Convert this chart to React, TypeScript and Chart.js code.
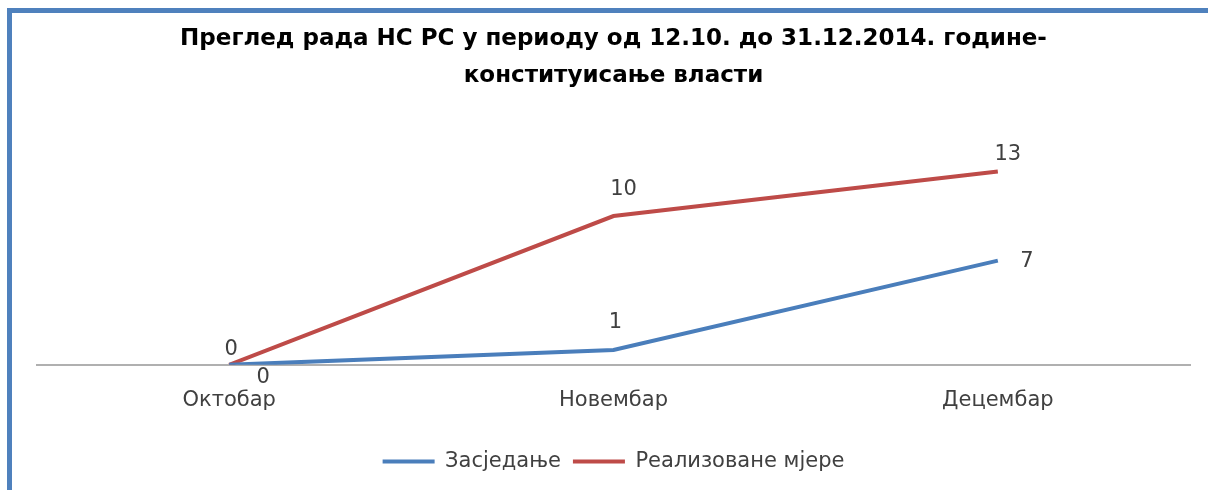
import React, { useEffect, useRef } from "react";
import { Chart, registerables } from "chart.js";

Chart.register(...registerables);

const categories = ["Октобар", "Новембар", "Децембар"];
const sessionValues = [0, 1, 7];
const measureValues = [0, 10, 13];
const seriesNames = ["Засједање", "Реализоване мјере"];
const titleLines = [
  "Преглед рада НС РС у периоду од 12.10. до 31.12.2014. године-",
  "конституисање власти",
];

const FONT = "'DejaVu Sans', 'Open Sans', sans-serif";
const TEXT_COLOR = "#404040";

// per-series label offsets (styling only)
const labelOffsets = [
  [
    [34, 13],
    [2, -27],
    [29, 1],
  ],
  [
    [2, -15],
    [10, -26],
    [10, -17],
  ],
];

const dataLabelPlugin = {
  id: "dataLabels",
  afterDatasetsDraw(chart: any) {
    const ctx = chart.ctx;
    ctx.save();
    ctx.font = `21px ${FONT}`;
    ctx.fillStyle = TEXT_COLOR;
    ctx.textAlign = "center";
    ctx.textBaseline = "middle";
    chart.data.datasets.forEach((ds: any, di: number) => {
      const meta = chart.getDatasetMeta(di);
      meta.data.forEach((el: any, i: number) => {
        const off = labelOffsets[di][i];
        ctx.fillText(String(ds.data[i]), el.x + off[0], el.y + off[1]);
      });
    });
    ctx.restore();
  },
};

export default function App() {
  const canvasRef = useRef<HTMLCanvasElement | null>(null);

  useEffect(() => {
    if (!canvasRef.current) return;
    const chart = new Chart(canvasRef.current, {
      type: "line",
      data: {
        labels: categories,
        datasets: [
          {
            label: seriesNames[0],
            data: sessionValues,
            borderColor: "#4A7EBB",
            backgroundColor: "#4A7EBB",
            borderWidth: 4,
            pointRadius: 0,
            tension: 0,
          },
          {
            label: seriesNames[1],
            data: measureValues,
            borderColor: "#BE4B48",
            backgroundColor: "#BE4B48",
            borderWidth: 4,
            pointRadius: 0,
            tension: 0,
          },
        ],
      },
      options: {
        animation: false,
        responsive: true,
        maintainAspectRatio: false,
        layout: { padding: { left: 25, right: 18, top: 0, bottom: 8 } },
        plugins: {
          title: {
            display: true,
            text: titleLines,
            color: "#000000",
            font: { family: FONT, size: 23, weight: "bold", lineHeight: 1.62 },
            padding: { top: 7, bottom: 62 },
          },
          legend: {
            display: true,
            position: "bottom",
            labels: {
              color: TEXT_COLOR,
              font: { family: FONT, size: 21 },
              usePointStyle: true,
              pointStyle: "line",
              boxWidth: 52,
              boxHeight: 4,
              pointStyleWidth: 52,
              padding: 12,
            },
          },
          tooltip: { enabled: false },
        },
        scales: {
          x: {
            offset: true,
            grid: { display: false, drawTicks: false },
            border: { display: true, color: "#B0B0B0", width: 2 },
            ticks: {
              color: TEXT_COLOR,
              font: { family: FONT, size: 21 },
              padding: 23,
            },
            afterFit(scale: any) {
              scale.height += 3;
            },
          },
          y: {
            display: false,
            min: 0,
            max: 14,
          },
        },
      },
      plugins: [dataLabelPlugin],
    });
    return () => chart.destroy();
  }, []);

  return (
    <div
      style={{
        position: "absolute",
        left: 7,
        top: 8,
        width: 1201,
        height: 482,
        borderTop: "5px solid #4F81BD",
        borderLeft: "5px solid #4F81BD",
        background: "#ffffff",
        boxSizing: "border-box",
      }}
    >
      <div style={{ position: "relative", width: 1196, height: 477 }}>
        <canvas ref={canvasRef} />
      </div>
    </div>
  );
}
